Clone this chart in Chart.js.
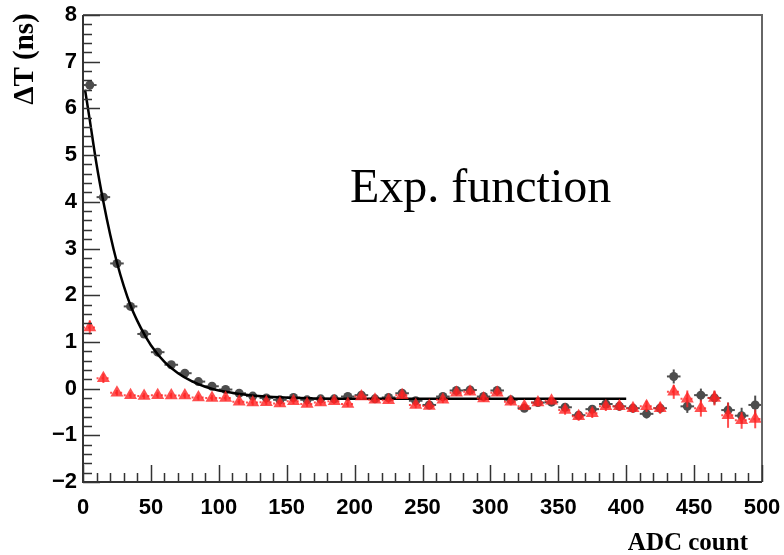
<!DOCTYPE html>
<html>
<head>
<meta charset="utf-8">
<script src="https://cdn.jsdelivr.net/npm/chart.js@4/dist/chart.umd.min.js"></script>
<style>
  html, body { margin: 0; padding: 0; background: #fff; }
  canvas { display: block; }
</style>
</head>
<body>
<canvas id="dt" width="784" height="555"></canvas>
<script>
// bin centres (ADC count), 10-wide bins
const adcBins = [5, 15, 25, 35, 45, 55, 65, 75, 85, 95,
    105, 115, 125, 135, 145, 155, 165, 175, 185, 195,
    205, 215, 225, 235, 245, 255, 265, 275, 285, 295,
    305, 315, 325, 335, 345, 355, 365, 375, 385, 395,
    405, 415, 425, 435, 445, 455, 465, 475, 485, 495];
const binHalfWidth = 5;

// before correction (grey dots)
const dtRaw = [6.5, 4.1, 2.68, 1.76, 1.17, 0.78, 0.51, 0.33, 0.15, 0.05,
    -0.02, -0.1, -0.16, -0.2, -0.24, -0.19, -0.24, -0.22, -0.22, -0.17,
    -0.14, -0.22, -0.19, -0.1, -0.26, -0.35, -0.17, -0.04, -0.03, -0.17,
    -0.04, -0.24, -0.42, -0.3, -0.29, -0.4, -0.57, -0.44, -0.33, -0.38,
    -0.42, -0.54, -0.42, 0.26, -0.38, -0.14, -0.2, -0.46, -0.58, -0.35];
const dtRawErr = [0.1, 0.06, 0.05, 0.05, 0.05, 0.05, 0.05, 0.05, 0.05, 0.05,
    0.05, 0.05, 0.05, 0.05, 0.05, 0.05, 0.05, 0.05, 0.05, 0.05,
    0.05, 0.05, 0.05, 0.06, 0.06, 0.06, 0.06, 0.06, 0.06, 0.06,
    0.06, 0.07, 0.07, 0.07, 0.07, 0.08, 0.08, 0.08, 0.08, 0.09,
    0.09, 0.1, 0.1, 0.15, 0.14, 0.14, 0.14, 0.16, 0.17, 0.2];

// after correction (red triangles)
const dtCorr = [1.31, 0.22, -0.09, -0.14, -0.16, -0.14, -0.15, -0.15, -0.19, -0.2,
    -0.2, -0.28, -0.3, -0.29, -0.32, -0.27, -0.33, -0.3, -0.27, -0.33,
    -0.17, -0.24, -0.25, -0.14, -0.35, -0.37, -0.24, -0.09, -0.07, -0.21,
    -0.09, -0.28, -0.38, -0.3, -0.26, -0.46, -0.59, -0.53, -0.38, -0.38,
    -0.42, -0.38, -0.42, -0.07, -0.22, -0.42, -0.2, -0.57, -0.68, -0.65];
const dtCorrErr = [0.15, 0.1, 0.06, 0.06, 0.06, 0.06, 0.06, 0.06, 0.06, 0.06,
    0.06, 0.06, 0.06, 0.06, 0.06, 0.06, 0.06, 0.06, 0.06, 0.06,
    0.06, 0.06, 0.06, 0.07, 0.07, 0.07, 0.07, 0.07, 0.07, 0.07,
    0.07, 0.08, 0.08, 0.08, 0.08, 0.1, 0.1, 0.1, 0.1, 0.1,
    0.1, 0.12, 0.12, 0.15, 0.18, 0.18, 0.16, 0.27, 0.18, 0.2];

// exponential fit
const fitX = [1.5, 5, 10, 15, 20, 25, 30, 35, 40, 45, 50, 60, 70, 80, 90, 100,
    120, 140, 170, 200, 250, 300, 350, 400];
const fitY = [6.4, 5.75, 4.8, 4.0, 3.3, 2.7, 2.2, 1.78, 1.45, 1.17, 0.93, 0.57, 0.33, 0.16, 0.04, -0.04,
    -0.13, -0.18, -0.21, -0.22, -0.22, -0.22, -0.22, -0.22];

const xTitle = 'ADC count';
const yTitle = '\u0394T (ns)';
const fitLabel = 'Exp. function';

const grey = '#4d4d4d';
const red = 'rgba(255, 35, 35, 0.8)';

const toPoints = (xs, ys) => xs.map((x, i) => ({ x: x, y: ys[i] }));

const errorBars = {
    id: 'errorBars',
    afterDatasetDraw(chart, args) {
        const ds = chart.data.datasets[args.index];
        if (!ds.errY) return;
        const ctx = chart.ctx;
        const xs = chart.scales.x, ys = chart.scales.y;
        ctx.save();
        ctx.strokeStyle = ds.borderColor;
        ctx.lineWidth = 2;
        ds.data.forEach((p, i) => {
            const px = xs.getPixelForValue(p.x);
            const py = ys.getPixelForValue(p.y);
            ctx.setLineDash(ds.dashX ? [2, 3] : []);
            ctx.beginPath();
            ctx.moveTo(xs.getPixelForValue(p.x - binHalfWidth), py);
            ctx.lineTo(xs.getPixelForValue(p.x + binHalfWidth), py);
            ctx.stroke();
            ctx.setLineDash([]);
            ctx.beginPath();
            ctx.moveTo(px, ys.getPixelForValue(p.y - ds.errY[i]));
            ctx.lineTo(px, ys.getPixelForValue(p.y + ds.errY[i]));
            ctx.stroke();
        });
        ctx.restore();
    }
};

// ROOT style frame: ticks point into the pad
const rootFrame = {
    id: 'rootFrame',
    afterDraw(chart) {
        const ctx = chart.ctx;
        const a = chart.chartArea;
        const xs = chart.scales.x, ys = chart.scales.y;
        ctx.save();
        ctx.strokeStyle = '#666';
        ctx.lineWidth = 2;
        ctx.beginPath();
        ctx.moveTo(a.left, a.top);
        ctx.lineTo(a.right, a.top);
        ctx.lineTo(a.right, a.bottom);
        ctx.stroke();
        ctx.strokeStyle = '#333';
        ctx.beginPath();
        ctx.moveTo(a.left, a.top);
        ctx.lineTo(a.left, a.bottom);
        ctx.lineTo(a.right, a.bottom);
        ctx.stroke();
        ctx.lineWidth = 1.5;
        ctx.beginPath();
        for (let v = ys.min; v <= ys.max + 1e-6; v += 0.2) {
            const py = Math.round(ys.getPixelForValue(v)) + 0.5;
            const major = Math.abs(v - Math.round(v)) < 1e-6;
            ctx.moveTo(a.left, py);
            ctx.lineTo(a.left + (major ? 17 : 9), py);
        }
        for (let v = xs.min; v <= xs.max + 1e-6; v += 10) {
            const px = Math.round(xs.getPixelForValue(v)) + 0.5;
            const major = v % 50 === 0;
            ctx.moveTo(px, a.bottom);
            ctx.lineTo(px, a.bottom - (major ? 17 : 9));
        }
        ctx.stroke();

        ctx.fillStyle = '#000';
        ctx.font = 'bold 25px "Liberation Serif"';
        ctx.textAlign = 'right';
        ctx.textBaseline = 'alphabetic';
        ctx.fillText(xTitle, 748, 550);

        ctx.font = '48px "Liberation Serif"';
        ctx.textAlign = 'left';
        ctx.fillText(fitLabel, 350, 202);

        ctx.translate(33, 59);
        ctx.rotate(-Math.PI / 2);
        ctx.font = 'bold 29px "Liberation Serif"';
        ctx.textAlign = 'center';
        ctx.fillText(yTitle, 0, 0);
        ctx.restore();
    }
};

const tickFont = { family: '"Liberation Sans", Arial, sans-serif', weight: 'bold', size: 22 };
const minus = v => String(v).replace('-', '\u2212');

new Chart(document.getElementById('dt'), {
    type: 'scatter',
    data: {
        datasets: [
            {
                label: 'corrected',
                data: toPoints(adcBins, dtCorr),
                errY: dtCorrErr,
                dashX: true,
                pointStyle: 'triangle',
                pointRadius: 7.5,
                backgroundColor: red,
                borderColor: red,
                borderWidth: 0,
                order: 1
            },
            {
                label: 'fit',
                data: toPoints(fitX, fitY),
                showLine: true,
                cubicInterpolationMode: 'monotone',
                pointRadius: 0,
                borderColor: '#000',
                borderWidth: 2.5,
                order: 2
            },
            {
                label: 'raw',
                data: toPoints(adcBins, dtRaw),
                errY: dtRawErr,
                pointStyle: 'circle',
                pointRadius: 4.5,
                backgroundColor: grey,
                borderColor: grey,
                borderWidth: 0,
                order: 3
            }
        ]
    },
    options: {
        responsive: false,
        animation: false,
        layout: { padding: { top: 15, right: 22, left: 0, bottom: 0 } },
        plugins: { legend: { display: false }, tooltip: { enabled: false } },
        scales: {
            x: {
                type: 'linear', min: 0, max: 500,
                grid: { display: false, drawTicks: false },
                border: { display: false },
                ticks: { stepSize: 50, font: tickFont, color: '#000', padding: 13, maxRotation: 0, callback: minus },
                afterFit: s => { s.height = 73; s.paddingLeft = 0; s.paddingRight = 0; }
            },
            y: {
                type: 'linear', min: -2, max: 8,
                grid: { display: false, drawTicks: false },
                border: { display: false },
                ticks: { stepSize: 1, font: tickFont, color: '#000', padding: 6, callback: minus },
                afterFit: s => { s.width = 83; s.paddingTop = 0; s.paddingBottom = 0; }
            }
        }
    },
    plugins: [errorBars, rootFrame]
});
</script>
</body>
</html>
